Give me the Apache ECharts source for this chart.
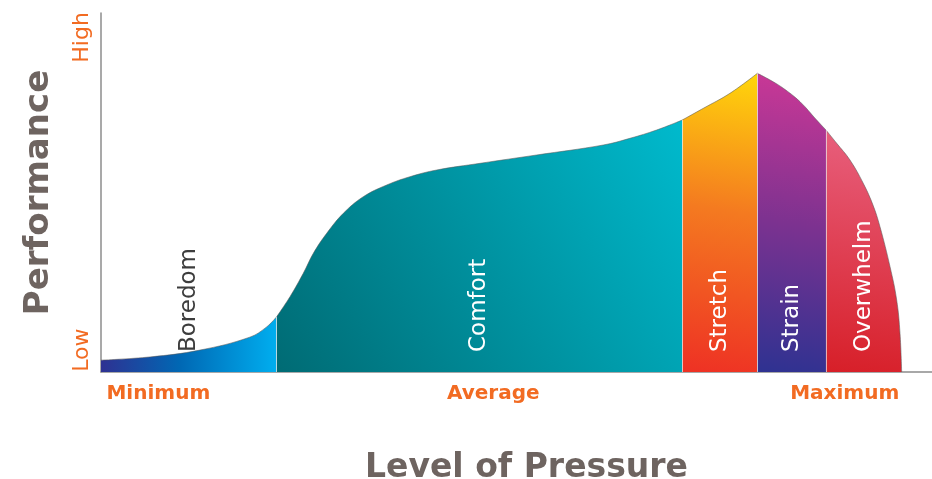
<!DOCTYPE html>
<html><head><meta charset="utf-8">
<script src="https://cdn.jsdelivr.net/npm/echarts@6/dist/echarts.min.js"></script>
<style>html,body{margin:0;padding:0;background:#fff}#chart{width:932px;height:479px}</style>
</head><body><div id="chart"></div>
<script>
// ---- data (x = level of pressure 0..100, y = performance 0..100) ----
const zoneNames = ['Boredom', 'Comfort', 'Stretch', 'Strain', 'Overwhelm'];
const boredom = [[0, 3.3], [5.9, 4.2], [11.9, 6.1], [17.9, 9.7], [19.9, 12.5], [21.14, 15.4]];
const comfort = [[21.14, 15.4], [22.74, 20.97], [24.34, 27.49], [25.55, 33.06], [27.16, 38.64],
                 [29.16, 44.21], [31.56, 48.83], [34.38, 52.09], [37.18, 54.4], [40.4, 56.27],
                 [45.61, 58.13], [52.43, 60.45], [60.45, 63.23], [63.66, 65.1], [66.87, 67.41],
                 [69.95, 70.19]];
const stretch = [[69.95, 70.19], [72.48, 73.45], [75.69, 77.63], [78.98, 83.2]];
const strain = [[78.98, 83.2], [80.51, 81.34], [82.11, 79.03], [84.12, 75.29], [86.12, 70.19], [87.24, 67.41]];
const overwhelm = [[87.24, 67.41], [88.53, 63.71], [90.13, 59.05], [91.73, 52.56], [92.9, 46.5],
                   [93.74, 40.47], [94.95, 29.33], [95.75, 20.06], [96.15, 10.78], [96.35, 0]];
const xTickLabels = ['Minimum', 'Average', 'Maximum'];
const xTickValues = [6.9, 47.2, 89.5];
const yTickLabels = ['Low', 'High'];
const yTickValues = [6.1, 93.2];
const xTitle = 'Level of Pressure';
const yTitle = 'Performance';

// ---- styles ----
const G = echarts.graphic.LinearGradient;
const zoneData = [boredom, comfort, stretch, strain, overwhelm];
const zoneFills = [
  new G(0, 0, 1, 0, [{offset: 0, color: '#2e3192'}, {offset: 0.45, color: '#0068b4'}, {offset: 1, color: '#00aeef'}]),
  new G(0, 1, 1, 0, [{offset: 0, color: '#006b74'}, {offset: 1, color: '#00bacd'}]),
  new G(0, 1, 0.6, 0, [{offset: 0, color: '#ee3124'}, {offset: 0.55, color: '#f47a20'}, {offset: 1, color: '#ffd40b'}]),
  new G(0.2, 1, 0.8, 0, [{offset: 0, color: '#2f3291'}, {offset: 0.5, color: '#7d3290'}, {offset: 1, color: '#cc3896'}]),
  new G(0, 1, 0.5, 0, [{offset: 0, color: '#d71f28'}, {offset: 1, color: '#e8607e'}])
];
const labelColors = ['#3d3d3d', '#ffffff', '#ffffff', '#ffffff', '#ffffff'];
const orange = '#f26b22';
const grayText = '#6e6460';

const chart = echarts.init(document.getElementById('chart'), null, {renderer: 'canvas'});

const series = zoneData.map((d, i) => ({
  type: 'line',
  name: zoneNames[i],
  data: d,
  smooth: 0.4,
  showSymbol: false,
  symbol: 'none',
  lineStyle: {width: 1, color: 'rgba(90,90,90,0.55)'},
  areaStyle: {color: zoneFills[i], opacity: 1, origin: 'start'},
  z: 2,
  silent: true,
  markLine: i === 0 ? undefined : {
    symbol: 'none', silent: true, label: {show: false},
    lineStyle: {color: 'rgba(235,235,235,0.7)', width: 1, type: 'solid'},
    data: [[{coord: [d[0][0], 0]}, {coord: [d[0][0], d[0][1]]}]]
  }
}));

chart.setOption({
  animation: false,
  grid: {left: 101, right: 0, top: 13, bottom: 107, containLabel: false, outerBoundsMode: 'none'},
  xAxis: {
    type: 'value', min: 0, max: 100,
    splitLine: {show: false},
    axisTick: {show: false},
    axisLine: {show: true, lineStyle: {color: '#8c8c8c', width: 1.5}},
    axisLabel: {
      customValues: xTickValues,
      formatter: v => xTickLabels[xTickValues.indexOf(v)] || '',
      color: orange, fontFamily: 'DejaVu Sans', fontWeight: 'bold', fontSize: 20, margin: 12
    },
    name: xTitle, nameLocation: 'middle', nameGap: 80,
    nameTextStyle: {color: grayText, fontFamily: 'DejaVu Sans', fontWeight: 'bold', fontSize: 33, padding: [0, 0, 0, 20]}
  },
  yAxis: {
    type: 'value', min: 0, max: 100,
    splitLine: {show: false},
    axisTick: {show: false},
    axisLine: {show: true, lineStyle: {color: '#8c8c8c', width: 1.5}},
    axisLabel: {
      customValues: yTickValues,
      formatter: v => yTickLabels[yTickValues.indexOf(v)] || '',
      rotate: 90,
      color: orange, fontFamily: 'DejaVu Sans', fontSize: 22, margin: 8
    },
    name: yTitle, nameLocation: 'middle', nameRotate: 90, nameGap: 45,
    nameTextStyle: {color: grayText, fontFamily: 'DejaVu Sans', fontWeight: 'bold', fontSize: 34}
  },
  series: series
});

// zone labels, anchored at each zone's middle pressure value on the axis
const labels = zoneData.map((d, i) => {
  const mid = (d[0][0] + d[d.length - 1][0]) / 2;
  const p = chart.convertToPixel({gridIndex: 0}, [mid, 0]);
  return {
    type: 'text', x: p[0], y: p[1] - 20, rotation: Math.PI / 2, z: 10, silent: true,
    style: {text: zoneNames[i], fill: labelColors[i], font: '23px "DejaVu Sans"',
            align: 'left', verticalAlign: 'middle', textAlign: 'left', textVerticalAlign: 'middle'}
  };
});
chart.setOption({graphic: labels});
</script></body></html>
